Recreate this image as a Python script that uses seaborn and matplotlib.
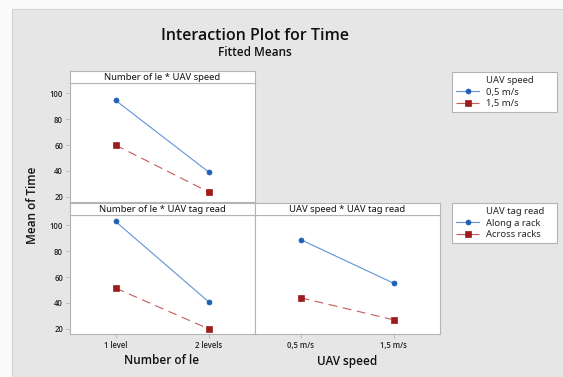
"""
Interaction Plot for Time (Fitted Means), estilo Minitab.
"""

import matplotlib
matplotlib.use('Agg')

import matplotlib.pyplot as plt
import pandas as pd
import seaborn as sns
from matplotlib.lines import Line2D
from matplotlib.patches import Rectangle

# Datos
levels = ['1 level', '2 levels']
speeds = ['0,5 m/s', '1,5 m/s']
tag_reads = ['Along a rack', 'Across racks']

time_level_speed_05 = [94.6, 39.3]
time_level_speed_15 = [60.0, 23.8]
time_level_along = [103.0, 41.0]
time_level_across = [51.5, 20.0]
time_speed_along = [89.0, 55.3]
time_speed_across = [44.0, 27.0]

y_ticks = [20, 40, 60, 80, 100]

W, H = 563, 377
BLUE_DARK, BLUE_LIGHT = '#1f5fb4', '#5f95d6'
RED_DARK, RED_LIGHT = '#9e1b1b', '#c45a5a'
FRAME = '#b4b4b4'
BG = '#e6e6e6'
DASH = (0, (8, 5))
HEAVY = {'family': ['Open Sans', 'DejaVu Sans'], 'weight': 600}
# marcador -> (color oscuro, color de linea, tamano, estilo)
SERIES_STYLE = {
    'o': (BLUE_DARK, BLUE_LIGHT, 3.6, '-'),
    's': (RED_DARK, RED_LIGHT, 3.9, DASH),
}

sns.set_theme(style='white')
plt.rcParams['font.family'] = ['Noto Sans', 'DejaVu Sans']


def rect(x0, y0, x1, y1):
    """Pixel box (top-left origin) -> figure coords."""
    return [x0 / W, 1 - y1 / H, (x1 - x0) / W, (y1 - y0) / H]


def make_df(xcol, xvals, hcol, hvals, series):
    rows = []
    for h, vals in zip(hvals, series):
        for xv, v in zip(xvals, vals):
            rows.append({xcol: xv, hcol: h, 'Time': v})
    return pd.DataFrame(rows)


df_ls = make_df('Number of le', levels, 'UAV speed', speeds,
                [time_level_speed_05, time_level_speed_15])
df_lt = make_df('Number of le', levels, 'UAV tag read', tag_reads,
                [time_level_along, time_level_across])
df_st = make_df('UAV speed', speeds, 'UAV tag read', tag_reads,
                [time_speed_along, time_speed_across])


def style_lines(ax):
    for line in ax.lines:
        st = SERIES_STYLE.get(line.get_marker())
        if st is None:
            continue
        dark, light, ms, ls = st
        line.set_markerfacecolor(dark)
        line.set_markeredgecolor(dark)
        line.set_markeredgewidth(0.5)
        line.set_markersize(ms)
        line.set_color(light)
        line.set_linewidth(0.8)
        line.set_linestyle(ls)


def draw_panel(box, df, x, hue, order, hue_order, show_y, show_x):
    ax = fig.add_axes(rect(*box))
    sns.pointplot(
        data=df, x=x, y='Time', hue=hue, order=order, hue_order=hue_order,
        palette=[BLUE_DARK, RED_DARK], markers=['o', 's'],
        linestyles=['-', '--'], errorbar=None, legend=False, ax=ax,
    )
    style_lines(ax)
    ax.set_facecolor('white')
    ax.set_xlim(-0.49, 1.5)
    ax.set_ylim(16, 108)
    ax.set_yticks(y_ticks)
    ax.set_xlabel('')
    ax.set_ylabel('')
    for sp in ax.spines.values():
        sp.set_color(FRAME)
        sp.set_linewidth(0.8)
    ax.tick_params(axis='both', which='both', labelsize=5.5, colors='#222222',
                   length=3, width=0.6, pad=2, direction='out',
                   bottom=show_x, left=show_y, labelbottom=show_x,
                   labelleft=show_y)
    ax.tick_params(color=FRAME)
    for lab in ax.get_xticklabels() + ax.get_yticklabels():
        lab.set_fontfamily(HEAVY['family'])
        lab.set_fontweight(HEAVY['weight'])
    return ax


def draw_strip(box, label):
    sx = fig.add_axes(rect(*box))
    sx.set_facecolor('white')
    sx.set_xticks([])
    sx.set_yticks([])
    for sp in sx.spines.values():
        sp.set_color(FRAME)
        sp.set_linewidth(0.8)
    sx.text(0.5, 0.45, label, ha='center', va='center', fontsize=6.8,
            color='#111111', transform=sx.transAxes)


fig = plt.figure(figsize=(W / 100, H / 100), dpi=100)
fig.patch.set_facecolor('#fafafa')
fig.patches.append(Rectangle((12 / W, 0), 1 - 12 / W, 1 - 9 / H,
                             transform=fig.transFigure, facecolor=BG,
                             edgecolor='#d4d4d4', linewidth=0.8, zorder=-1))

draw_panel((70, 83, 255, 202), df_ls, 'Number of le', 'UAV speed',
           levels, speeds, True, False)
draw_panel((70, 215, 255, 334), df_lt, 'Number of le', 'UAV tag read',
           levels, tag_reads, True, True)
draw_panel((255, 215, 440, 334), df_st, 'UAV speed', 'UAV tag read',
           speeds, tag_reads, False, True)

draw_strip((70, 71, 255, 83), 'Number of le * UAV speed')
draw_strip((70, 203, 255, 215), 'Number of le * UAV tag read')
draw_strip((255, 203, 440, 215), 'UAV speed * UAV tag read')

# titulos y etiquetas
fig.text(255 / W, 1 - 36 / H, 'Interaction Plot for Time', ha='center',
         va='center', fontsize=11.5, color='#111111', **HEAVY)
fig.text(255 / W, 1 - 53 / H, 'Fitted Means', ha='center', va='center',
         fontsize=8.5, color='#111111', **HEAVY)
fig.text(162 / W, 1 - 361 / H, 'Number of le', ha='center', va='center',
         fontsize=8.5, color='#111111', **HEAVY)
fig.text(347 / W, 1 - 361 / H, 'UAV speed', ha='center', va='center',
         fontsize=8.5, color='#111111', **HEAVY)
fig.text(32 / W, 1 - 205 / H, 'Mean of Time', ha='center', va='center',
         rotation=90, fontsize=8.5, color='#111111', **HEAVY)


def legend_handles():
    blank = Line2D([], [], linestyle='none')
    handles = [blank]
    for mk in ['o', 's']:
        dark, light, ms, ls = SERIES_STYLE[mk]
        handles.append(Line2D([], [], color=light, marker=mk, mfc=dark,
                              mec=dark, mew=0.5, markersize=ms,
                              linewidth=0.8, linestyle=ls))
    return handles


for top, title, labels in [(72, 'UAV speed', speeds),
                           (203, 'UAV tag read', tag_reads)]:
    leg = fig.legend(
        legend_handles(), [title] + labels,
        loc='upper left', bbox_to_anchor=(452 / W, 1 - top / H, 105 / W, 0),
        mode='expand', bbox_transform=fig.transFigure, frameon=True,
        fancybox=False, framealpha=1, fontsize=6.8, handlelength=2.4,
        handletextpad=0.8, labelspacing=0.25, borderpad=0.45,
        borderaxespad=0,
    )
    leg.get_frame().set_edgecolor(FRAME)
    leg.get_frame().set_linewidth(0.8)
    leg.get_frame().set_facecolor('white')

fig.savefig('out.png', dpi=100)
plt.close(fig)
